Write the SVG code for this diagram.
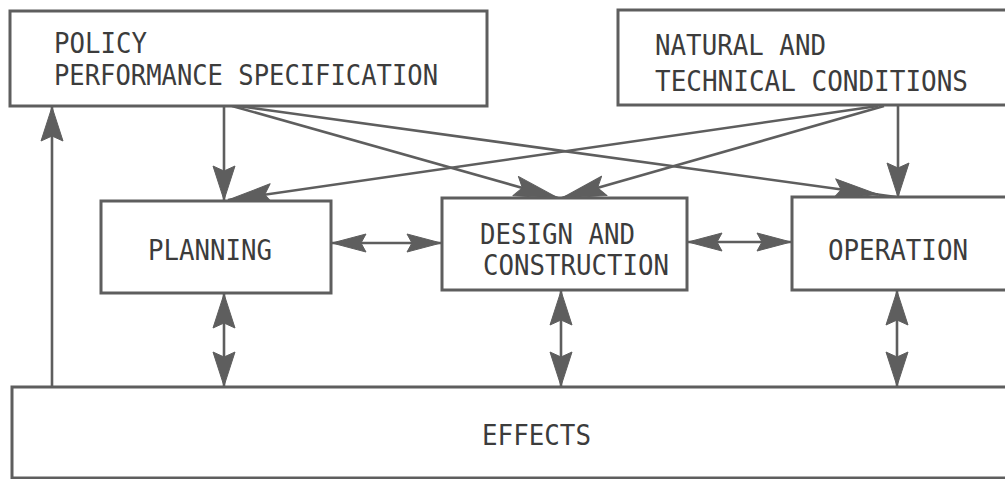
<svg xmlns="http://www.w3.org/2000/svg" width="1005" height="479" viewBox="0 0 1005 479">
  <style>
    .box { fill: #ffffff; stroke: #5e5e5e; stroke-width: 3; }
    .lbl { font-family: "DejaVu Sans Mono", "Liberation Mono", monospace; font-size: 28px; fill: #3c3c3c; }
    .cn { fill: none; stroke: #5e5e5e; stroke-width: 2.6; }
    .head { fill: #5e5e5e; stroke: #5e5e5e; stroke-width: 1; stroke-linejoin: round; }
  </style>
  <defs>
    <!-- short arrowhead for vertical links -->
    <marker id="arrow" markerUnits="userSpaceOnUse" markerWidth="40" markerHeight="30" refX="0" refY="0" orient="auto-start-reverse" overflow="visible">
      <path class="head" d="M0,0 L-34,-11 L-29,0 L-34,11 Z"/>
    </marker>
    <!-- slimmer arrowhead for horizontal links -->
    <marker id="arrowH" markerUnits="userSpaceOnUse" markerWidth="40" markerHeight="30" refX="0" refY="0" orient="auto-start-reverse" overflow="visible">
      <path class="head" d="M0,0 L-34,-9 L-29,0 L-34,9 Z"/>
    </marker>
    <!-- longer arrowhead for the slanted links -->
    <marker id="arrowL" markerUnits="userSpaceOnUse" markerWidth="50" markerHeight="30" refX="0" refY="0" orient="auto" overflow="visible">
      <path class="head" d="M0,0 L-44,-10 L-37,0 L-44,10 Z"/>
    </marker>
  </defs>

  <!-- connectors -->
  <g id="connectors">
    <!-- feedback from effects up to policy -->
    <line class="cn" x1="52" y1="387" x2="52" y2="107" marker-end="url(#arrow)"/>
    <!-- policy down to planning -->
    <line class="cn" x1="224" y1="106" x2="224" y2="200" marker-end="url(#arrow)"/>
    <!-- policy to design and operation -->
    <line class="cn" x1="232" y1="106" x2="558" y2="198" marker-end="url(#arrowL)"/>
    <line class="cn" x1="238" y1="106" x2="896" y2="197"/>
    <line class="cn" x1="840" y1="189.5" x2="878" y2="194.5" marker-end="url(#arrowL)"/>
    <!-- natural and technical conditions down to the stages -->
    <line class="cn" x1="898" y1="105" x2="898" y2="197" marker-end="url(#arrow)"/>
    <line class="cn" x1="878" y1="106" x2="228" y2="200" marker-end="url(#arrowL)"/>
    <line class="cn" x1="884" y1="106" x2="562" y2="198" marker-end="url(#arrowL)"/>
    <!-- links between stages -->
    <line class="cn" x1="332" y1="243" x2="441" y2="243" marker-start="url(#arrowH)" marker-end="url(#arrowH)"/>
    <line class="cn" x1="688" y1="242" x2="791" y2="242" marker-start="url(#arrowH)" marker-end="url(#arrowH)"/>
    <!-- stages to effects -->
    <line class="cn" x1="224" y1="294" x2="224" y2="386" marker-start="url(#arrow)" marker-end="url(#arrow)"/>
    <line class="cn" x1="561" y1="291" x2="561" y2="386" marker-start="url(#arrow)" marker-end="url(#arrow)"/>
    <line class="cn" x1="897" y1="291" x2="897" y2="386" marker-start="url(#arrow)" marker-end="url(#arrow)"/>
  </g>

  <g id="policy">
    <rect class="box" x="10" y="11" width="477" height="95"/>
    <text class="lbl" x="54" y="53" textLength="93" lengthAdjust="spacingAndGlyphs">POLICY</text>
    <text class="lbl" x="54" y="85" textLength="384" lengthAdjust="spacingAndGlyphs">PERFORMANCE SPECIFICATION</text>
  </g>

  <g id="conditions">
    <rect class="box" x="618" y="10" width="400" height="95"/>
    <text class="lbl" x="655" y="55" textLength="171" lengthAdjust="spacingAndGlyphs">NATURAL AND</text>
    <text class="lbl" x="655" y="91" textLength="313" lengthAdjust="spacingAndGlyphs">TECHNICAL CONDITIONS</text>
  </g>

  <g id="planning">
    <rect class="box" x="101" y="201" width="230" height="92"/>
    <text class="lbl" x="148" y="260" textLength="124" lengthAdjust="spacingAndGlyphs">PLANNING</text>
  </g>

  <g id="design">
    <rect class="box" x="442" y="198" width="245" height="92"/>
    <text class="lbl" x="480" y="244" textLength="155" lengthAdjust="spacingAndGlyphs">DESIGN AND</text>
    <text class="lbl" x="483" y="275" textLength="186" lengthAdjust="spacingAndGlyphs">CONSTRUCTION</text>
  </g>

  <g id="operation">
    <rect class="box" x="792" y="197" width="230" height="93"/>
    <text class="lbl" x="828" y="260" textLength="140" lengthAdjust="spacingAndGlyphs">OPERATION</text>
  </g>

  <g id="effects">
    <rect class="box" x="12" y="387" width="1010" height="91"/>
    <text class="lbl" x="482" y="445" textLength="109" lengthAdjust="spacingAndGlyphs">EFFECTS</text>
  </g>
</svg>
